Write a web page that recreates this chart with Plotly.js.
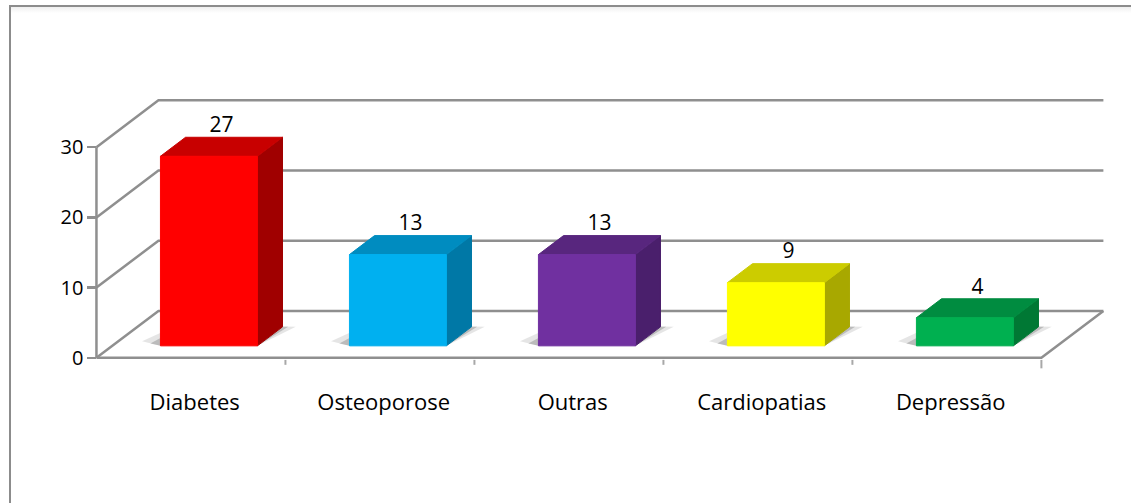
<!DOCTYPE html>
<html><head><meta charset="utf-8">
<script src="https://cdn.plot.ly/plotly-3.0.1.min.js"></script>
<style>
html,body{margin:0;padding:0;background:#fff;}
#wrap{position:relative;width:1131px;height:503px;overflow:hidden;}
#chart{position:absolute;left:0;top:0;width:1131px;height:503px;}
#frame{position:absolute;left:9px;top:5px;width:1300px;height:700px;border-left:2px solid #8c8c8c;border-top:2px solid #8c8c8c;pointer-events:none;}
#band{position:absolute;left:11px;top:7px;width:1300px;height:6px;background:linear-gradient(#efefef,#ffffff);pointer-events:none;}
</style></head>
<body>
<div id="wrap"><div id="chart"></div><div id="band"></div><div id="frame"></div></div>
<script>
// ---- data ----
const categories = ['Diabetes', 'Osteoporose', 'Outras', 'Cardiopatias', 'Depressão'];
const values = [27, 13, 13, 9, 4];
const frontColors = ['#FF0000', '#00B0F0', '#7030A0', '#FFFF00', '#00B050'];
const topColors = ['#C80000', '#008CC0', '#58267E', '#CCCC00', '#008C40'];
const sideColors = ['#A00000', '#0078A6', '#4A1F6C', '#A8A800', '#007834'];
const yTicks = [0, 10, 20, 30];

// ---- 3D oblique geometry (in axis units) ----
const DX = 0.328, DY = 6.68;     // full depth offset
const F0 = 0.255, F1 = 0.66;     // bar front/back depth fractions
const BL = 0.255, BW = 0.513;    // bar left offset and width within a category
const N = categories.length;
const XR = [-0.05, 5.4], YR = [-9, 38];
const gridColor = '#8f8f8f';

function P(x, v, f) { return [x + f * DX, v + f * DY]; }
function poly(pts, fill, lineCol, lw) {
  const xs = pts.map(p => p[0]).concat([pts[0][0]]);
  const ys = pts.map(p => p[1]).concat([pts[0][1]]);
  return {type: 'scatter', mode: 'lines', x: xs, y: ys, fill: 'toself', fillcolor: fill,
          line: {color: lineCol || fill, width: lw === undefined ? 1 : lw}, hoverinfo: 'skip', showlegend: false};
}

const traces = [];

// back wall gridlines + left wall diagonals
const gx = [], gy = [];
yTicks.forEach(v => {
  gx.push(0, DX, N + DX, null);
  gy.push(v, v + DY, v + DY, null);
});
// floor front edge + right edge
gx.push(0, N, N + DX, null); gy.push(0, 0, DY, null);
// vertical axis line
gx.push(0, 0, null); gy.push(0, yTicks[yTicks.length - 1], null);
traces.push({type: 'scatter', mode: 'lines', x: gx, y: gy, line: {color: gridColor, width: 2.5},
             hoverinfo: 'skip', showlegend: false, connectgaps: false});

// category tick marks (short, light)
const tx = [], ty = [];
for (let k = 1; k <= N; k++) { tx.push(k, k, null); ty.push(-0.3, k === N ? -1.5 : -1.0, null); }
traces.push({type: 'scatter', mode: 'lines', x: tx, y: ty, line: {color: '#a8a8a8', width: 2},
             hoverinfo: 'skip', showlegend: false, connectgaps: false});

// shadows
values.forEach((v, i) => {
  const x0 = i + BL, x1 = i + BL + BW;
  traces.push(poly([P(x0 - 0.13, 0, F0 + 0.1), P(x0, 0, F0), P(x1, 0, F0), P(x1 + 0.07, 0, F1), P(x0 - 0.05, 0, F1 + 0.06)],
                   'rgba(110,110,110,0.18)', 'rgba(0,0,0,0)', 0));
  traces.push(poly([P(x0 - 0.07, 0, F0 + 0.05), P(x0, 0, F0), P(x1, 0, F0), P(x1 + 0.03, 0, F1), P(x0 - 0.02, 0, F1 + 0.03)],
                   'rgba(80,80,80,0.28)', 'rgba(0,0,0,0)', 0));
});

// bars: side, top, front
values.forEach((v, i) => {
  const x0 = i + BL, x1 = i + BL + BW;
  traces.push(poly([P(x1, 0, F0), P(x1, 0, F1), P(x1, v, F1), P(x1, v, F0)], sideColors[i]));
  traces.push(poly([P(x0, v, F0), P(x1, v, F0), P(x1, v, F1), P(x0, v, F1)], topColors[i]));
  traces.push(poly([P(x0, 0, F0), P(x1, 0, F0), P(x1, v, F0), P(x0, v, F0)], frontColors[i]));
});

// data labels
traces.push({type: 'scatter', mode: 'text',
  x: values.map((v, i) => i + BL + BW / 2 + (F0 + F1) / 2 * DX),
  y: values.map(v => v + F1 * DY),
  text: values.map(String), textposition: 'top center',
  textfont: {family: 'Open Sans', size: 21, color: '#000'},
  cliponaxis: false, hoverinfo: 'skip', showlegend: false});

// category labels
traces.push({type: 'scatter', mode: 'text',
  x: categories.map((c, i) => i + 0.52),
  y: categories.map(() => -6.6),
  text: categories, textposition: 'middle center',
  textfont: {family: 'Open Sans', size: 22, color: '#000'},
  cliponaxis: false, hoverinfo: 'skip', showlegend: false});

const pxPerX = 189, pxPerY = 7.035;
const ml = 96 + XR[0] * pxPerX;
const pw = (XR[1] - XR[0]) * pxPerX;
const mt = 358 - YR[1] * pxPerY;
const ph = (YR[1] - YR[0]) * pxPerY;

const layout = {
  width: 1131, height: 503,
  margin: {l: ml, r: 1131 - ml - pw, t: mt, b: 503 - mt - ph, pad: 0},
  paper_bgcolor: 'rgba(0,0,0,0)', plot_bgcolor: 'rgba(0,0,0,0)',
  showlegend: false,
  font: {family: 'Open Sans', color: '#000'},
  xaxis: {range: XR, visible: false, fixedrange: true},
  yaxis: {range: YR, tickvals: yTicks, ticktext: yTicks.map(String),
          ticks: 'outside', ticklen: 9, tickwidth: 2.5, tickcolor: gridColor,
          tickfont: {family: 'Open Sans', size: 20, color: '#000'},
          showgrid: false, zeroline: false, showline: false,
          anchor: 'free', position: (0 - XR[0]) / (XR[1] - XR[0]), fixedrange: true}
};

Plotly.newPlot('chart', traces, layout, {staticPlot: true, displayModeBar: false});
</script>
</body></html>
